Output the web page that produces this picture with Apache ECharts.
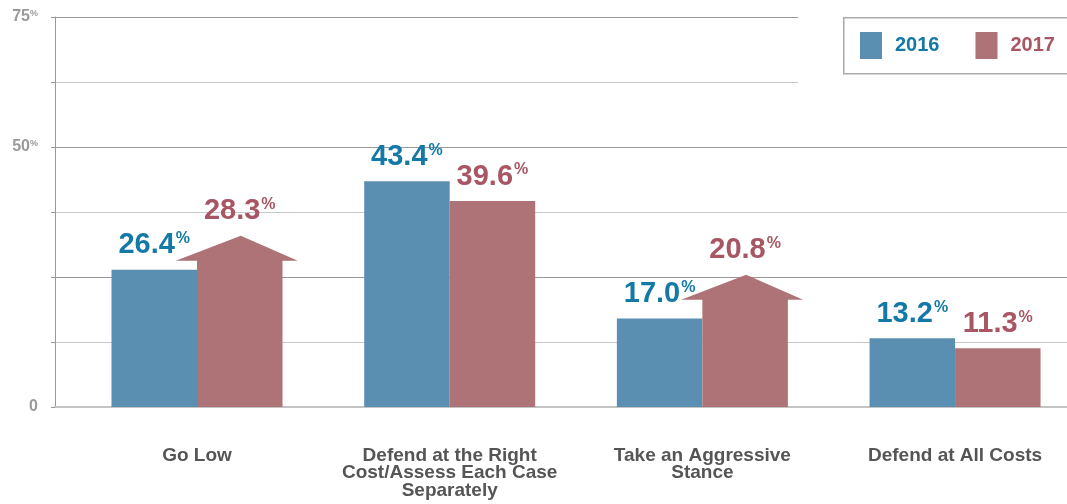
<!DOCTYPE html>
<html>
<head>
<meta charset="utf-8">
<script src="https://cdn.jsdelivr.net/npm/echarts@6/dist/echarts.min.js"></script>
<style>
html,body{margin:0;padding:0;background:#fff;}
#chart{width:1067px;height:504px;}
</style>
</head>
<body>
<div id="chart"></div>
<script>
const categories = ['Go Low', 'Defend at the Right\nCost/Assess Each Case\nSeparately', 'Take an Aggressive\nStance', 'Defend at All Costs'];
const seriesNames = ['2016', '2017'];
const values2016 = [26.4, 43.4, 17.0, 13.2];
const values2017 = [28.3, 39.6, 20.8, 11.3];
const arrow2017 = [true, false, true, false];
const yLabeledTicks = [0, 50, 75];

const FONT = '"Liberation Sans", Arial, sans-serif';
const BAR_W = 85.5;
const ARROW_H = 24;
const barColors = ['#5b8fb1', '#ad7377'];
const textColors = ['#1479a6', '#a85663'];

function labelFor(idx, arrow) {
  return {
    show: true,
    position: 'top',
    distance: arrow ? 10 + ARROW_H : 10,
    formatter: function (p) { return '{v|' + p.value[1].toFixed(1) + '}{p|%}'; },
    rich: {
      v: { fontSize: 29, fontWeight: 'bold', color: textColors[idx], fontFamily: FONT },
      p: { fontSize: 16, fontWeight: 'bold', color: textColors[idx], fontFamily: FONT, verticalAlign: 'top', padding: [0, 0, 8, 1] }
    }
  };
}

const data2016 = values2016.map((v, i) => ({ value: [i, v], label: labelFor(0, false) }));
const data2017 = values2017.map((v, i) => ({ value: [i, v], label: labelFor(1, arrow2017[i]) }));
const arrowData = values2017.map((v, i) => arrow2017[i] ? [i, v] : null).filter(d => d);

const chart = echarts.init(document.getElementById('chart'), null, { renderer: 'canvas' });
chart.setOption({
  animation: false,
  backgroundColor: '#fff',
  textStyle: { fontFamily: FONT },
  grid: { left: 55, right: 0, top: 17, bottom: 97, containLabel: false },
  legend: {
    data: [
      { name: seriesNames[0], textStyle: { color: textColors[0] } },
      { name: seriesNames[1], textStyle: { color: textColors[1] } }
    ],
    left: 860, top: 32,
    orient: 'horizontal',
    icon: 'rect',
    itemWidth: 22, itemHeight: 27, itemGap: 36,
    padding: 0,
    textStyle: { fontSize: 20, fontWeight: 'bold', fontFamily: FONT, padding: [0, 0, 0, 8] },
    selectedMode: false,
    z: 10
  },
  graphic: [
    {
      type: 'rect', left: 798, top: 6, z: 5, silent: true,
      shape: { width: 280, height: 82 },
      style: { fill: '#fff' }
    },
    {
      type: 'rect', left: 843, top: 17, z: 6, silent: true,
      shape: { width: 240, height: 56 },
      style: { fill: '#fff', stroke: '#aaa', lineWidth: 1.5 }
    }
  ],
  xAxis: {
    type: 'value',
    min: -0.562, max: 3.443,
    axisLine: { show: true, onZero: false, lineStyle: { color: '#c4c4c4', width: 2 } },
    axisTick: { show: false },
    splitLine: { show: false },
    axisLabel: {
      customValues: [0, 1, 2, 3],
      formatter: function (v) { return categories[Math.round(v)] || ''; },
      margin: 40,
      fontSize: 19, fontWeight: 'bold', color: '#555', lineHeight: 17.5,
      align: 'center', fontFamily: FONT
    }
  },
  yAxis: {
    type: 'value',
    min: 0, max: 75, interval: 12.5,
    axisLine: { show: true, onZero: false, lineStyle: { color: '#999', width: 1 } },
    axisTick: { show: true, length: 4, lineStyle: { color: '#999' } },
    splitLine: { show: true, lineStyle: { color: ['#999', '#c8c8c8'], width: 1 } },
    axisLabel: {
      margin: 17,
      formatter: function (v) {
        if (yLabeledTicks.indexOf(v) < 0) return '';
        return v === 0 ? '{n|0}' : '{n|' + v + '}{p|%}';
      },
      rich: {
        n: { fontSize: 16, fontWeight: 'bold', color: '#9a9a9a', fontFamily: FONT },
        p: { fontSize: 9, fontWeight: 'bold', color: '#9a9a9a', fontFamily: FONT, verticalAlign: 'top', padding: [0, 0, 6, 0] }
      }
    }
  },
  series: [
    {
      name: seriesNames[0], type: 'bar', data: data2016,
      barWidth: BAR_W, barGap: '0%',
      itemStyle: { color: barColors[0] }
    },
    {
      name: seriesNames[1], type: 'bar', data: data2017,
      barWidth: BAR_W, barGap: '0%',
      itemStyle: { color: barColors[1] }
    },
    {
      type: 'custom', silent: true,
      data: arrowData,
      renderItem: function (params, api) {
        const p = api.coord([api.value(0), api.value(1)]);
        const cx = p[0] + BAR_W / 2;
        const y = p[1] + 1;
        return {
          type: 'polygon',
          shape: { points: [[cx - 64, y], [cx + 58, y], [cx + 1, y - 1 - ARROW_H]] },
          style: { fill: barColors[1] }
        };
      }
    }
  ]
});
</script>
</body>
</html>
